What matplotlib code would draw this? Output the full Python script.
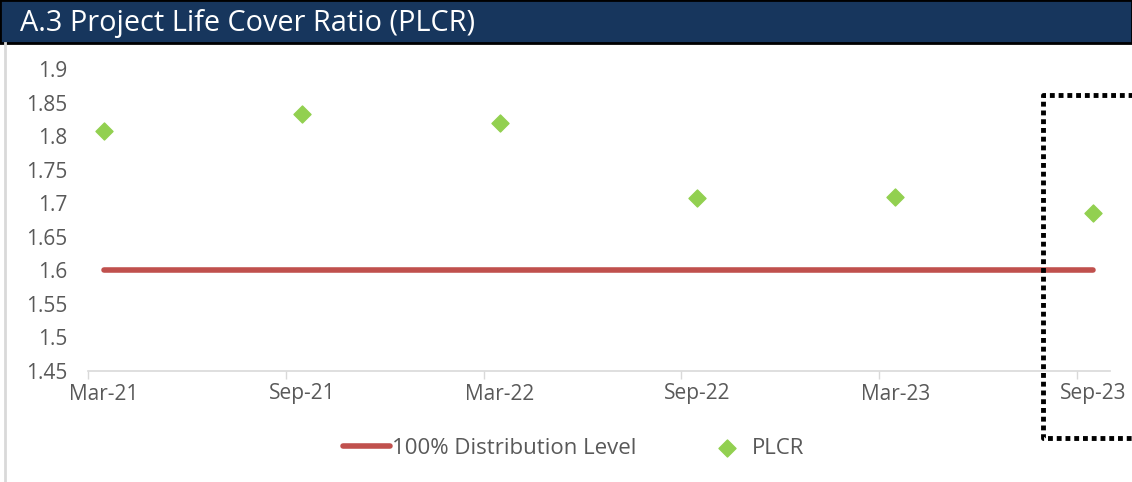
import matplotlib.pyplot as plt
import numpy as np
from matplotlib.patches import Rectangle
from matplotlib.lines import Line2D

plt.rcParams['font.family'] = ['Open Sans', 'DejaVu Sans']

# data
periods = ["Mar-21", "Sep-21", "Mar-22", "Sep-22", "Mar-23", "Sep-23"]
plcr = [1.808, 1.833, 1.820, 1.708, 1.709, 1.686]
dist_level = [1.6, 1.6, 1.6, 1.6, 1.6, 1.6]
y_ticks = [1.45, 1.5, 1.55, 1.6, 1.65, 1.7, 1.75, 1.8, 1.85, 1.9]

W, H = 1132, 482
fig = plt.figure(figsize=(W / 100, H / 100), dpi=100)
fig.patch.set_facecolor("white")

# title bar
fig.add_artist(Rectangle((0, 1 - 43 / H), 1, 43 / H, transform=fig.transFigure,
                         facecolor="#17365d", edgecolor="black", linewidth=2))
fig.text(20 / W, 1 - 24 / H, "A.3 Project Life Cover Ratio (PLCR)", color="white",
         fontsize=20.8, va="center", ha="left")
# left grey border
fig.add_artist(Line2D([5 / W, 5 / W], [0, 1 - 43 / H], transform=fig.transFigure,
                      color="#d9d9d9", linewidth=2))

ax = fig.add_axes([88 / W, 1 - 371 / H, (1110 - 88) / W, (371 - 69) / H])
x = np.arange(len(periods))

ax.plot(x, dist_level, color="#c0504d", linewidth=4, solid_capstyle="round",
        label="100% Distribution Level")
ax.scatter(x, plcr, marker="D", s=75, color="#92d050", zorder=3, label="PLCR")

ax.set_xlim(-0.081, 5.086)
ax.set_ylim(1.45, 1.9)
ax.set_yticks(y_ticks)
ax.set_yticklabels([f"{v:g}" for v in y_ticks])
ax.set_xticks(x - 0.081)
ax.set_xticklabels([])
ax.set_xticks(x, minor=True)
ax.set_xticklabels(periods, minor=True)
ax.tick_params(axis="x", which="major", length=6, color="#d9d9d9", width=1)
ax.tick_params(axis="x", which="minor", length=0, pad=9, labelsize=15, labelcolor="#595959")
ax.tick_params(axis="y", length=0, pad=15, labelsize=15, labelcolor="#595959")
for s in ["top", "right", "left"]:
    ax.spines[s].set_visible(False)
ax.spines["bottom"].set_color("#d9d9d9")
ax.spines["bottom"].set_linewidth(1.2)

ax.legend(loc="center", bbox_to_anchor=(574 / W, 1 - 448 / H), bbox_transform=fig.transFigure,
          ncol=2, frameon=False, fontsize=16, labelcolor="#595959", handlelength=2.1,
          handletextpad=0.1, columnspacing=3.0)

# dotted highlight box
fig.add_artist(Line2D([1150 / W, 1043 / W, 1043 / W, 1150 / W],
                      [1 - 95 / H, 1 - 95 / H, 1 - 438 / H, 1 - 438 / H],
                      transform=fig.transFigure, color="black", linewidth=3.5,
                      linestyle=(0, (1, 0.8))))

fig.savefig("out.png", dpi=100)
